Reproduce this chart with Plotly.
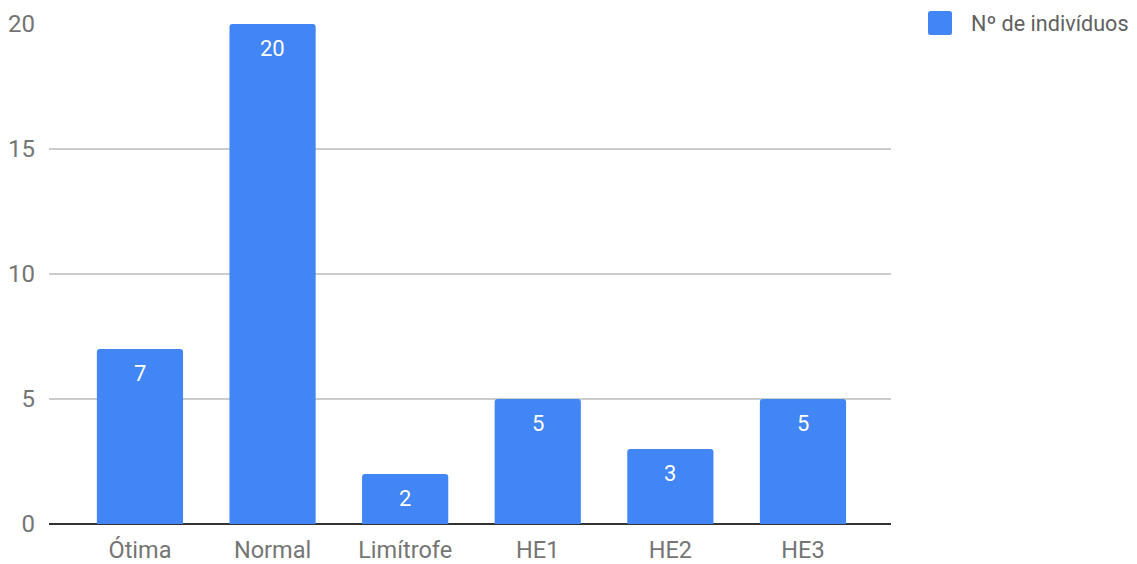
import plotly.graph_objects as go

categories = ["Ótima", "Normal", "Limítrofe", "HE1", "HE2", "HE3"]
values = [7, 20, 2, 5, 3, 5]
series_name = "Nº de indivíduos"
y_ticks = [0, 5, 10, 15, 20]

BLUE = "#4285F4"
FONT = "Roboto, Arial, sans-serif"

fig = go.Figure()
fig.add_trace(go.Bar(
    x=list(range(len(categories))), y=values,
    marker=dict(color=BLUE, line=dict(width=0), cornerradius=3),
    width=0.65, showlegend=False, hoverinfo="skip",
))

# value labels inside bars, near the top
for i, v in enumerate(values):
    fig.add_annotation(x=i, y=v, xref="x", yref="y", text=str(v), showarrow=False,
                       xanchor="center", yanchor="middle", yshift=-24,
                       font=dict(family=FONT, size=22, color="white"))

# plot area in pixels: x 49..891, y 24..524
L, R, T, B = 49, 891, 24, 524
W, H = 1137, 564
def px(x):
    return (x - L) / (R - L)
def py(y):
    return (B - y) / (B - T)

# legend swatch (rounded square) + label
x0, x1, y0, y1 = px(928), px(952), py(35), py(11)
r = 2.5
rx, ry = r / (R - L), r / (B - T)
path = (f"M {x0+rx},{y0} L {x1-rx},{y0} Q {x1},{y0} {x1},{y0+ry} "
        f"L {x1},{y1-ry} Q {x1},{y1} {x1-rx},{y1} L {x0+rx},{y1} Q {x0},{y1} {x0},{y1-ry} "
        f"L {x0},{y0+ry} Q {x0},{y0} {x0+rx},{y0} Z")
fig.add_shape(type="path", path=path, xref="paper", yref="paper",
              fillcolor=BLUE, line=dict(width=0))
fig.add_annotation(x=px(969), y=py(23), xref="paper", yref="paper",
                   text=series_name, showarrow=False, xanchor="left", yanchor="middle",
                   font=dict(family=FONT, size=21.6, color="#616161"))

fig.update_layout(
    width=W, height=H,
    margin=dict(l=L, r=W - R, t=T, b=H - B, pad=0, autoexpand=False),
    plot_bgcolor="white", paper_bgcolor="white",
    font=dict(family=FONT, size=22, color="#757575"),
    xaxis=dict(range=[-0.686, 5.664], tickmode="array",
               tickvals=list(range(len(categories))), ticktext=categories,
               showgrid=False, zeroline=False, showline=False, ticks="",
               tickfont=dict(family=FONT, size=23.5, color="#757575"),
               ticklabelstandoff=9, automargin=False, fixedrange=True),
    yaxis=dict(range=[0, 20], tickmode="array", tickvals=y_ticks,
               showgrid=True, gridcolor="#cccccc", gridwidth=1.5,
               zeroline=True, zerolinecolor="#333333", zerolinewidth=2,
               showline=False, ticks="",
               tickfont=dict(family=FONT, size=24, color="#757575"),
               ticklabelstandoff=13, automargin=False, fixedrange=True),
    showlegend=False,
)

fig.write_html("out.html")
